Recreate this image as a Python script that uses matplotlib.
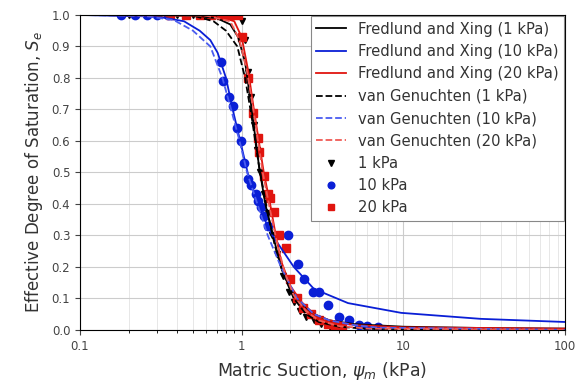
import matplotlib
matplotlib.use("Agg")
import matplotlib.pyplot as plt
from matplotlib.ticker import FixedLocator, FixedFormatter

# fitted curves (suction in kPa, effective saturation)
fx1_s = [0.1, 0.5, 0.7, 0.85, 0.95, 1.05, 1.14, 1.28, 1.4, 1.58, 1.75, 2.0, 2.33, 2.8, 3.5, 5, 10, 30, 100]
fx1_se = [1.0, 0.999, 0.99, 0.97, 0.93, 0.85, 0.72, 0.52, 0.40, 0.29, 0.20, 0.13, 0.085, 0.05, 0.03, 0.018, 0.01, 0.006, 0.004]
fx10_s = [0.1, 0.3, 0.44, 0.55, 0.64, 0.71, 0.8, 0.88, 1.0, 1.1, 1.3, 1.55, 2.1, 2.8, 4.55, 9.7, 30, 100]
fx10_se = [1.0, 0.995, 0.98, 0.95, 0.92, 0.88, 0.80, 0.70, 0.58, 0.49, 0.38, 0.30, 0.20, 0.13, 0.085, 0.054, 0.035, 0.025]
fx20_s = [0.1, 0.7, 0.9, 1.0, 1.1, 1.19, 1.37, 1.5, 1.6, 1.75, 2.0, 2.33, 2.8, 3.5, 5, 10, 100]
fx20_se = [1.0, 0.998, 0.98, 0.93, 0.82, 0.70, 0.50, 0.40, 0.32, 0.22, 0.14, 0.09, 0.05, 0.03, 0.015, 0.008, 0.004]
vg1_s = [0.1, 0.5, 0.67, 0.8, 0.94, 1.05, 1.15, 1.28, 1.45, 1.6, 1.8, 2.1, 2.5, 3, 4, 6, 100]
vg1_se = [1.0, 0.998, 0.98, 0.95, 0.90, 0.80, 0.68, 0.52, 0.37, 0.27, 0.18, 0.10, 0.05, 0.025, 0.01, 0.003, 0.0]
vg10_s = [0.1, 0.25, 0.38, 0.5, 0.64, 0.76, 0.86, 0.97, 1.08, 1.25, 1.45, 1.75, 2.2, 2.8, 3.5, 5, 7, 100]
vg10_se = [1.0, 0.997, 0.984, 0.95, 0.90, 0.80, 0.70, 0.60, 0.50, 0.40, 0.30, 0.20, 0.10, 0.05, 0.03, 0.015, 0.007, 0.0]
vg20_s = [0.1, 0.6, 0.85, 0.97, 1.08, 1.18, 1.35, 1.5, 1.65, 1.85, 2.1, 2.5, 3, 4, 6, 100]
vg20_se = [1.0, 0.998, 0.98, 0.92, 0.82, 0.70, 0.50, 0.38, 0.28, 0.18, 0.11, 0.06, 0.03, 0.012, 0.004, 0.0]

# measured points
s1 = [0.2, 0.3, 0.4, 0.5, 0.6, 0.7, 0.8, 0.9, 1.0, 1.05, 1.1, 1.15, 1.2, 1.25, 1.3, 1.38, 1.45, 1.55,
      1.65, 1.8, 1.95, 2.1, 2.3, 2.5, 2.8, 3.1, 3.5, 4.0]
se1 = [1.0, 1.0, 1.0, 1.0, 1.0, 1.0, 1.0, 1.0, 0.98, 0.92, 0.82, 0.74, 0.65, 0.57, 0.50, 0.43, 0.37, 0.30,
       0.24, 0.17, 0.12, 0.09, 0.06, 0.04, 0.03, 0.02, 0.01, 0.005]
s10 = [0.18, 0.22, 0.26, 0.3, 0.35, 0.74, 0.77, 0.83, 0.88, 0.94, 0.99, 1.03, 1.10, 1.14, 1.22, 1.26, 1.31,
       1.37, 1.45, 1.93, 2.23, 2.43, 2.76, 3.0, 3.4, 4.0, 4.6, 5.3, 6.0, 7.0]
se10 = [1.0, 1.0, 1.0, 1.0, 1.0, 0.85, 0.79, 0.74, 0.71, 0.64, 0.60, 0.53, 0.48, 0.46, 0.43, 0.41, 0.39,
        0.36, 0.33, 0.30, 0.21, 0.16, 0.12, 0.12, 0.08, 0.04, 0.03, 0.016, 0.012, 0.01]
s20 = [0.36, 0.45, 0.55, 0.65, 0.75, 0.85, 0.95, 1.0, 1.1, 1.17, 1.26, 1.28, 1.37, 1.45, 1.5, 1.58, 1.7,
       1.88, 2.0, 2.2, 2.4, 2.7, 3.0, 3.4, 3.8, 4.2]
se20 = [1.0, 1.0, 1.0, 1.0, 1.0, 1.0, 1.0, 0.93, 0.80, 0.69, 0.61, 0.565, 0.49, 0.43, 0.42, 0.375, 0.30,
        0.26, 0.16, 0.10, 0.07, 0.05, 0.03, 0.02, 0.012, 0.008]

x_ticks = [0.1, 1, 10, 100]
x_tick_labels = ["0.1", "1", "10", "100"]

fig = plt.figure(figsize=(5.8, 3.84), dpi=100)
ax = fig.add_axes([0.138, 0.141, 0.836, 0.82])

blue = "#0a1fd6"
red = "#e0150f"

m1, = ax.plot(s1, se1, "v", color="black", ms=5, ls="none", label="1 kPa")
m10, = ax.plot(s10, se10, "o", color=blue, ms=6, ls="none", label="10 kPa")
m20, = ax.plot(s20, se20, "s", color=red, ms=5.5, ls="none", label="20 kPa")

l1, = ax.plot(fx1_s, fx1_se, "-", color="black", lw=1.3, label="Fredlund and Xing (1 kPa)")
l10, = ax.plot(fx10_s, fx10_se, "-", color=blue, lw=1.3, label="Fredlund and Xing (10 kPa)")
l20, = ax.plot(fx20_s, fx20_se, "-", color=red, lw=1.3, label="Fredlund and Xing (20 kPa)")
d1, = ax.plot(vg1_s, vg1_se, "--", color="black", lw=1.3, label="van Genuchten (1 kPa)")
d10, = ax.plot(vg10_s, vg10_se, "--", color="#4a5cf0", lw=1.3, label="van Genuchten (10 kPa)")
d20, = ax.plot(vg20_s, vg20_se, "--", color="#f05a55", lw=1.3, label="van Genuchten (20 kPa)")

ax.set_xscale("log")
ax.set_xlim(0.1, 100)
ax.set_ylim(0, 1)
ax.xaxis.set_major_locator(FixedLocator(x_ticks))
ax.xaxis.set_major_formatter(FixedFormatter(x_tick_labels))
ax.set_yticks([i / 10 for i in range(11)])
ax.set_yticklabels([f"{i / 10:.1f}" for i in range(11)])
ax.tick_params(labelsize=8.5, colors="#444444")
ax.tick_params(which="minor", length=2)
ax.grid(which="major", color="#cccccc", lw=0.8)
ax.grid(which="minor", axis="x", color="#e3e3e3", lw=0.6)
ax.set_axisbelow(True)

ax.set_xlabel(r"Matric Suction, $\psi_m$ (kPa)", fontsize=12.5, color="#333333", labelpad=5)
ax.set_ylabel(r"Effective Degree of Saturation, $S_e$", fontsize=12, color="#333333", labelpad=5)

leg = ax.legend(handles=[l1, l10, l20, d1, d10, d20, m1, m10, m20], loc="upper right",
                fontsize=10.6, borderaxespad=0.05, fancybox=False, edgecolor="#888888",
                framealpha=1, handlelength=2.0, labelspacing=0.5, markerscale=0.8)
leg.get_frame().set_linewidth(0.8)
for t in leg.get_texts():
    t.set_color("#333333")

fig.savefig("out.png", dpi=100)
